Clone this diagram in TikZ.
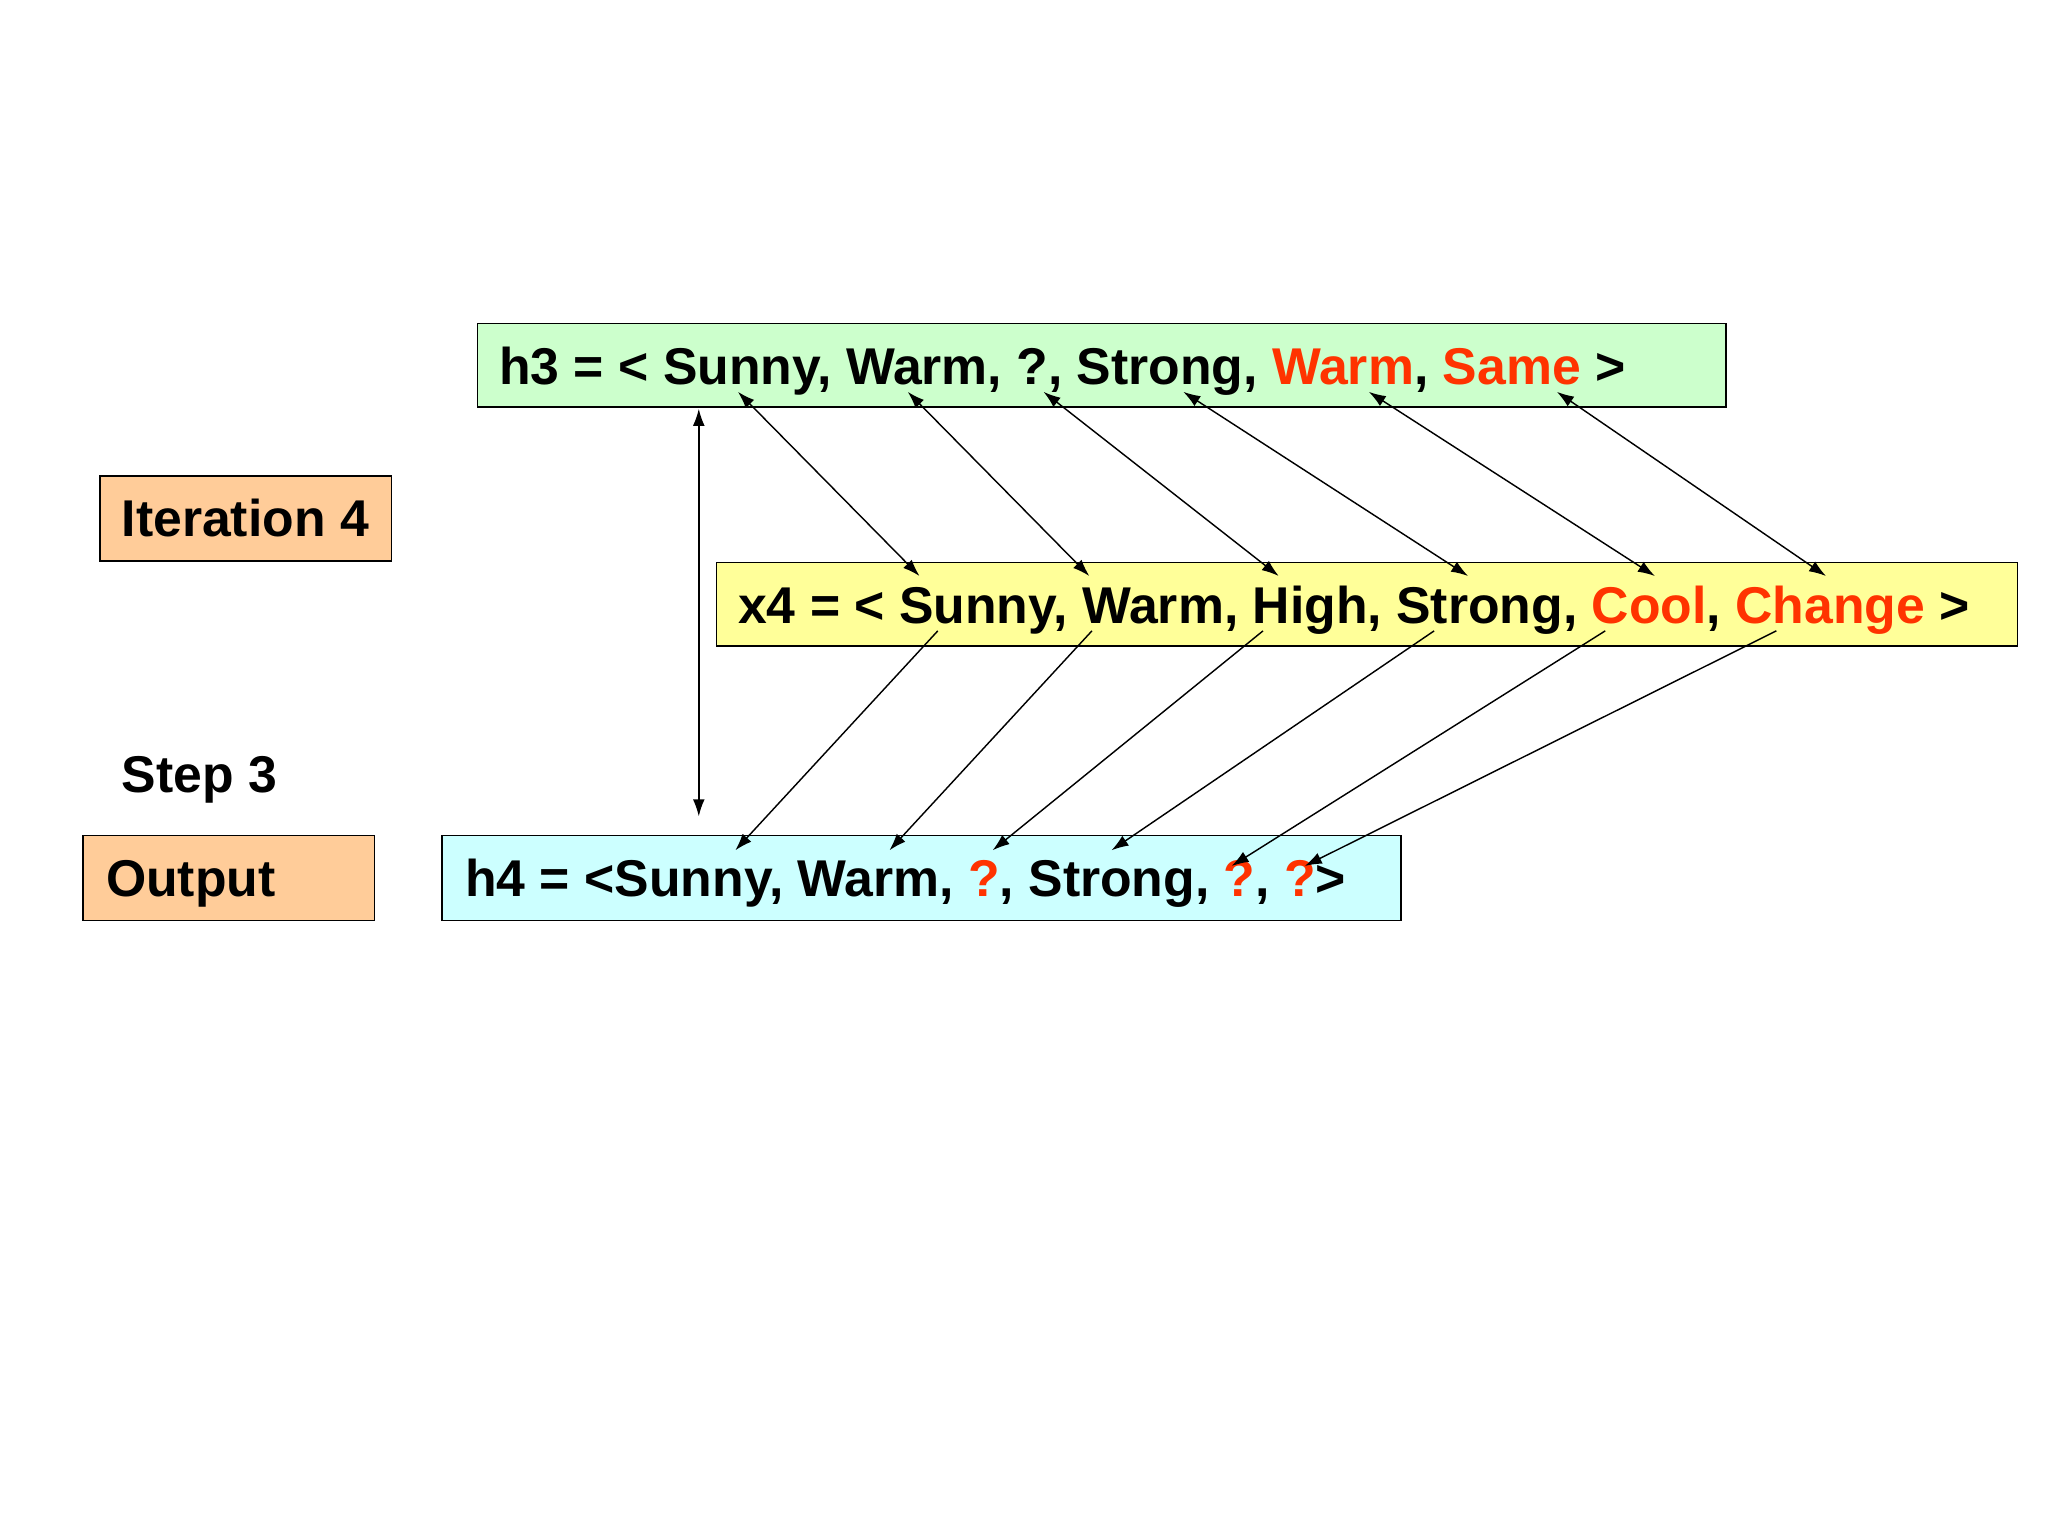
\documentclass[tikz,border=0pt]{standalone}
\usepackage{fontspec}
\setmainfont{Liberation Sans}
\usetikzlibrary{arrows.meta}
\definecolor{boxgreen}{HTML}{CCFFCC}
\definecolor{boxyellow}{HTML}{FFFF99}
\definecolor{boxcyan}{HTML}{CCFFFF}
\definecolor{boxorange}{HTML}{FFCC99}
\definecolor{hl}{HTML}{FF3300}
\tikzset{
  panel/.style={draw=black, line width=1.3pt, rectangle, inner sep=0pt, anchor=north west},
  label/.style={inner sep=0pt, anchor=base west, font=\fontsize{39.6}{47}\selectfont\bfseries},
  link/.style={line width=1.1pt, -{Latex[length=13pt,width=9pt]}},
  dlink/.style={line width=1.1pt, {Latex[length=13pt,width=9pt]}-{Latex[length=13pt,width=9pt]}}
}
\newcommand{\hlt}[1]{\textcolor{hl}{#1}}
\begin{document}
\begin{tikzpicture}[x=1pt,y=-1pt]
\useasboundingbox[fill=white] (0,0) rectangle (1568,1175);
% boxes
\node[panel, fill=boxgreen, minimum width=956pt, minimum height=64pt] (h3box) at (365,247) {};
\node[panel, fill=boxorange, minimum width=223pt, minimum height=65pt] (itbox) at (76,364) {};
\node[panel, fill=boxyellow, minimum width=996pt, minimum height=64pt] (x4box) at (548,430) {};
\node[panel, fill=boxorange, minimum width=223pt, minimum height=65pt] (outbox) at (63,639) {};
\node[panel, fill=boxcyan, minimum width=734pt, minimum height=65pt] (h4box) at (338,639) {};
% texts
\node[label] (h3) at (382,294) {h3 = < Sunny, Warm, ?, Strong, \hlt{Warm}, \hlt{Same} >};
\node[label] (it) at (93,411) {Iteration 4};
\node[label] (x4) at (565,477) {x4 = < Sunny, Warm, High, Strong, \hlt{Cool}, \hlt{Change} >};
\node[label] (st) at (93,607) {Step 3};
\node[label] (out) at (81,686) {Output};
\node[label] (h4) at (356,686) {h4 = <Sunny, Warm, \hlt{?}, Strong, \hlt{?}, \hlt{?}>};
% coordinates for arrows
\coordinate (v1) at (535,313);
\coordinate (v2) at (535,625);
\coordinate (a1) at (565,300); \coordinate (b1) at (704,441);
\coordinate (a2) at (695,300); \coordinate (b2) at (834,441);
\coordinate (a3) at (799,300); \coordinate (b3) at (979,441);
\coordinate (a4) at (906,300); \coordinate (b4) at (1124,441);
\coordinate (a5) at (1048,300); \coordinate (b5) at (1267,441);
\coordinate (a6) at (1192,300); \coordinate (b6) at (1398,441);
\coordinate (c1) at (718,483); \coordinate (d1) at (563,651);
\coordinate (c2) at (836,483); \coordinate (d2) at (681,651);
\coordinate (c3) at (967,483); \coordinate (d3) at (760,651);
\coordinate (c4) at (1098,483); \coordinate (d4) at (851,651);
\coordinate (c5) at (1229,483); \coordinate (d5) at (943,663);
\coordinate (c6) at (1360,483); \coordinate (d6) at (999,663);
% arrows
\draw[dlink] (v1) -- (v2);
\foreach \i in {1,...,6} {
  \draw[dlink] (a\i) -- (b\i);
  \draw[link] (c\i) -- (d\i);
}
\end{tikzpicture}
\end{document}
